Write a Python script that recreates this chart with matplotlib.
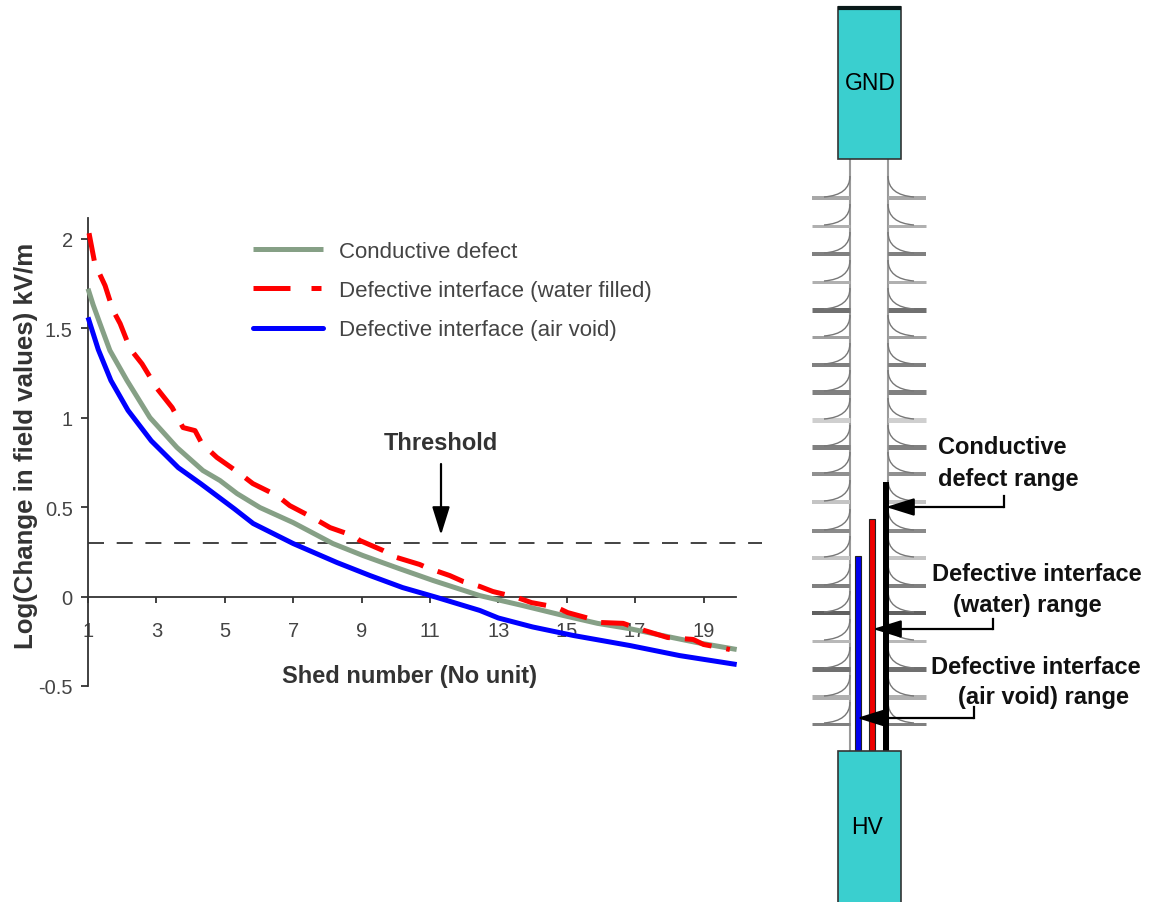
import matplotlib
matplotlib.use("Agg")
import matplotlib.pyplot as plt
from matplotlib.lines import Line2D
from matplotlib.path import Path
from matplotlib.patches import PathPatch, Rectangle

plt.rcParams['font.family'] = ['Liberation Sans', 'DejaVu Sans']
plt.rcParams['lines.scale_dashes'] = False

# ---- data ----
grey_x = [1.0, 1.15, 1.35, 1.64, 2.14, 2.81, 3.6, 4.36, 4.86, 5.36, 6.03, 7.0, 8.16, 9.04, 10.1, 11.1,
          12.46, 13.7, 14.9, 15.9, 16.85, 17.8, 18.8, 19.97]
grey_y = [1.72, 1.63, 1.525, 1.375, 1.207, 1.0, 0.833, 0.704, 0.648, 0.575, 0.497, 0.413, 0.296, 0.229, 0.156, 0.089,
          0.005, -0.05, -0.106, -0.15, -0.18, -0.218, -0.257, -0.296]
red_x = [1.03, 1.2, 1.5, 1.73, 1.94, 2.23, 2.58, 3.02, 3.46, 3.78, 4.13, 4.33, 4.77, 5.44, 5.82, 6.53, 6.9,
         7.58, 8.08, 8.75, 8.95, 9.63, 10.03, 10.7, 10.9, 11.58, 11.97, 12.46, 12.84, 13.54, 13.97,
         14.7, 15.03, 15.76, 15.97, 16.65, 17.1, 17.95, 18.7, 19.0, 19.77]
red_y = [2.03, 1.86, 1.737, 1.6, 1.525, 1.385, 1.30, 1.162, 1.056, 0.944, 0.927, 0.855, 0.777, 0.687, 0.631, 0.564, 0.508,
         0.44, 0.385, 0.34, 0.313, 0.257, 0.218, 0.179, 0.162, 0.117, 0.084, 0.056, 0.028, -0.005, -0.034,
         -0.06, -0.09, -0.128, -0.145, -0.15, -0.18, -0.229, -0.24, -0.268, -0.296]
blue_x = [1.0, 1.3, 1.67, 2.17, 2.85, 3.64, 4.3, 5.28, 5.83, 7.0, 8.28, 9.25, 10.2, 11.2, 12.46, 13.0, 14.0, 15.2,
          16.85, 18.3, 19.97]
blue_y = [1.56, 1.38, 1.207, 1.04, 0.87, 0.72, 0.63, 0.49, 0.408, 0.296, 0.19, 0.117, 0.05, -0.005, -0.078, -0.12,
          -0.17, -0.218, -0.274, -0.33, -0.38]
threshold = 0.30
x_ticks = [1, 3, 5, 7, 9, 11, 13, 15, 17, 19]
y_ticks = [-0.5, 0, 0.5, 1, 1.5, 2]
y_tick_labels = ['-0.5', '0', '0.5', '1', '1.5', '2']
series_names = ['Conductive defect', 'Defective interface (water filled)', 'Defective interface (air void)']

# schematic: shed rows (pixel y) with their line width and grey
shed_rows = [199, 227, 255, 283, 311, 338, 366, 393, 421, 448,
             475, 503, 532, 559, 587, 614, 642, 670, 698, 725]
shed_widths = [4, 3, 4, 3, 5, 3, 4, 5, 5, 5, 4, 4, 4, 4, 4, 4, 3, 5, 5, 3]
shed_greys = ['#a8a8a8', '#b0b0b0', '#808080', '#b0b0b0', '#707070', '#a0a0a0', '#808080', '#808080',
              '#cfcfcf', '#808080', '#909090', '#c4c4c4', '#8a8a8a', '#c4c4c4', '#808080', '#606060',
              '#b8b8b8', '#707070', '#b0b0b0', '#808080']

W, H = 1151, 903
fig = plt.figure(figsize=(W / 100, H / 100), dpi=100, facecolor='white')
PX = 0.72  # points per pixel

# ---- chart ----
ax = fig.add_axes([88 / W, 1 - 687 / H, (736 - 88) / W, (687 - 219) / H])
ax.set_xlim(1, 19.95)
ax.set_ylim(-0.5, 2.115)
for s in ('top', 'right'):
    ax.spines[s].set_visible(False)
ax.spines['bottom'].set_position(('data', 0))
for s in ('left', 'bottom'):
    ax.spines[s].set_linewidth(1.3)
    ax.spines[s].set_color('#333333')

lw = 5 * PX
ax.plot(grey_x, grey_y, color='#86a086', lw=lw, clip_on=False, solid_capstyle='butt', zorder=3)
ax.plot(red_x, red_y, color='#ff0000', lw=lw, clip_on=False, dashes=(28 * PX, 15 * PX),
        dash_capstyle='butt', zorder=4)
ax.plot(blue_x, blue_y, color='#0000ff', lw=lw, clip_on=False, solid_capstyle='butt', zorder=5)
ax.plot([1, 20.7], [threshold, threshold], color='#222222', lw=1.2, clip_on=False,
        dashes=(16 * PX, 12.7 * PX), dash_capstyle='butt', zorder=2)

ax.set_xticks(x_ticks)
ax.set_xticklabels([str(v) for v in x_ticks])
ax.set_yticks(y_ticks)
ax.set_yticklabels(y_tick_labels)
ax.tick_params(axis='x', direction='out', length=4, width=1.3, color='#333333', pad=13.5,
               labelsize=14.5, labelcolor='#444444')
ax.tick_params(axis='y', direction='out', length=5, width=1.3, color='#333333', pad=6,
               labelsize=14.5, labelcolor='#444444')
ax.set_xlabel('Shed number (No unit)', fontsize=17, fontweight='bold', color='#333333')
ax.xaxis.set_label_coords((409 - 88) / (736 - 88), (687 - 677) / (687 - 219), transform=ax.transAxes)
ax.xaxis.label.set_verticalalignment('center')
ax.set_ylabel('Log(Change in field values) kV/m', fontsize=18.6, fontweight='bold', color='#333333')
ax.yaxis.set_label_coords((26 - 88) / (736 - 88), (687 - 446) / (687 - 219), transform=ax.transAxes)
ax.yaxis.label.set_verticalalignment('center')

handles = [
    Line2D([], [], color='#86a086', lw=lw, solid_capstyle='butt'),
    Line2D([], [], color='#ff0000', lw=lw, dashes=(37 * PX, 21 * PX, 10 * PX, 21 * PX), dash_capstyle='butt'),
    Line2D([], [], color='#0000ff', lw=lw, solid_capstyle='round'),
]
ax.legend(handles, series_names, frameon=False, fontsize=16, labelcolor='#444444',
          handlelength=3.15, handletextpad=0.72, labelspacing=0.82, borderpad=0, borderaxespad=0,
          loc='upper left',
          bbox_to_anchor=((253 - 88) / (736 - 88), (687 - 242) / (687 - 219)))

# ---- overlay in pixel coordinates: threshold note and insulator schematic ----
ov = fig.add_axes([0, 0, 1, 1], facecolor='none')
ov.set_xlim(0, W)
ov.set_ylim(H, 0)
ov.axis('off')

def arrow(tip, tail, width=15, head=24):
    """Filled triangular head with a shaft, as in the schematic."""
    ov.annotate('', xy=tip, xytext=tail,
                arrowprops=dict(arrowstyle=f'-|>,head_length={head * PX / 2.0:.2f},head_width={width * PX / 2.0 / 2.0:.2f}',
                                mutation_scale=2.0, lw=1.6, color='black', shrinkA=0, shrinkB=0), zorder=9)

ov.text(441, 444, 'Threshold', fontsize=17, fontweight='bold', color='#333333', ha='center', va='center')
arrow((441, 536), (441, 465))

# trunk
for x in (850, 888):
    ov.plot([x, x], [160, 752], color='#9a9a9a', lw=1.5, zorder=1)
# sheds
for y, w, g in zip(shed_rows, shed_widths, shed_greys):
    ov.plot([812, 850], [y, y], color=g, lw=w * PX, solid_capstyle='butt', zorder=1)
    ov.plot([888, 926], [y, y], color=g, lw=w * PX, solid_capstyle='butt', zorder=1)
    for x0, x1 in ((850, 824), (888, 914)):
        p = Path([(x0, y - 22), (x0, y - 3), (x1, y - 1)], [Path.MOVETO, Path.CURVE3, Path.CURVE3])
        ov.add_patch(PathPatch(p, fc='none', ec='#777777', lw=1.0, zorder=1))

# electrodes
ov.add_patch(Rectangle((838, 8), 63, 152, fc='#3acfcf', ec='#333333', lw=1.2, zorder=3))
ov.plot([838, 901], [8.5, 8.5], color='#0a1a1a', lw=3, solid_capstyle='butt', zorder=4)
ov.add_patch(Rectangle((838, 752), 63, 160, fc='#3acfcf', ec='#333333', lw=1.2, zorder=3))
ov.text(870, 83, 'GND', fontsize=16.5, color='black', ha='center', va='center', zorder=5)
ov.text(867, 828, 'HV', fontsize=16.5, color='black', ha='center', va='center', zorder=5)

# defect ranges
ov.add_patch(Rectangle((883, 483), 6, 269, fc='black', ec='none', zorder=2))
ov.add_patch(Rectangle((869, 520), 6, 232, fc='#ee0000', ec='#222222', lw=0.8, zorder=2))
ov.add_patch(Rectangle((855, 557), 6, 195, fc='#0000ee', ec='#222222', lw=0.8, zorder=2))

# range arrows
for tip, corner, end in (((886, 508), (1004, 508), (1004, 497)),
                         ((873, 630), (993, 630), (993, 620)),
                         ((857, 719), (974, 719), (974, 708))):
    arrow(tip, corner)
    ov.plot([corner[0], end[0]], [corner[1], end[1]], color='black', lw=1.6, zorder=9)

# range labels
for x, y, s, ha in ((938, 448, 'Conductive', 'left'),
                    (938, 480, 'defect range', 'left'),
                    (1037, 575, 'Defective interface', 'center'),
                    (1027, 606, '(water) range', 'center'),
                    (1036, 668, 'Defective interface', 'center'),
                    (1044, 698, '(air void) range', 'center')):
    ov.text(x, y, s, fontsize=17, fontweight='bold', color='#111111', ha=ha, va='center', zorder=10)

fig.savefig('out.png', dpi=100)
